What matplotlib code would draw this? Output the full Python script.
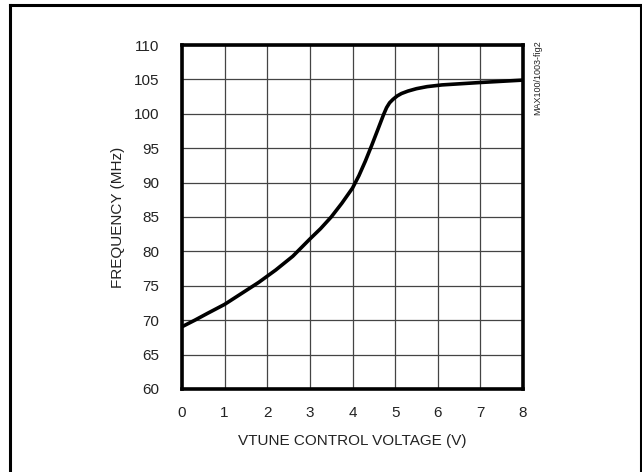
import matplotlib
matplotlib.use("Agg")
import matplotlib.pyplot as plt
from matplotlib.lines import Line2D

# Data
vtune = [0, 0.3, 0.6, 1, 1.4, 1.8, 2.2, 2.6, 3.0, 3.25, 3.5, 3.75, 4.0, 4.15, 4.3,
         4.45, 4.6, 4.73, 4.8, 4.87, 4.95, 5.05, 5.15, 5.3, 5.5, 5.75, 6.1, 7, 8]
freq = [69.05, 70.0, 71.0, 72.3, 73.9, 75.5, 77.3, 79.3, 81.8, 83.3, 85.0, 87.0,
        89.2, 91.0, 93.1, 95.4, 97.8, 99.9, 100.9, 101.6, 102.1, 102.6, 102.95,
        103.3, 103.65, 103.95, 104.2, 104.55, 104.9]
x_ticks = list(range(0, 9))
y_ticks = list(range(60, 111, 5))

plt.rcParams['font.family'] = ['Liberation Sans', 'DejaVu Sans']

fig = plt.figure(figsize=(6.42, 4.72), dpi=100)

# outer frame
W, H = 642, 472
for xs, ys in [([10, 10], [5, 475]), ([10, 641], [5, 5]), ([641, 641], [5, 475])]:
    fig.add_artist(Line2D([x / W for x in xs], [1 - y / H for y in ys],
                          color='black', lw=2.2, transform=fig.transFigure))

ax = fig.add_axes([182 / W, 1 - 389 / H, (523 - 182) / W, (389 - 45) / H])
ax.plot(vtune, freq, color='black', lw=2.6, solid_joinstyle='round')

ax.set_xlim(0, 8)
ax.set_ylim(60, 110)
ax.set_xticks(x_ticks)
ax.set_yticks(y_ticks)
ax.grid(True, color='#444444', lw=0.9)
ax.tick_params(length=0, labelsize=11, colors='#222222')
ax.tick_params(axis='x', pad=12)
ax.tick_params(axis='y', pad=16.5)
for s in ax.spines.values():
    s.set_linewidth(2.6)

ax.set_xlabel("VTUNE CONTROL VOLTAGE (V)", fontsize=11, labelpad=10, color='#222222')
ax.set_ylabel("FREQUENCY (MHz)", fontsize=11, labelpad=6, color='#222222')

fig.text(538 / W, 1 - 40 / H, "MAX100/1003-fig2", rotation=90, fontsize=6.5,
         ha='center', va='top', color='#222222')

fig.savefig("out.png", dpi=100)
